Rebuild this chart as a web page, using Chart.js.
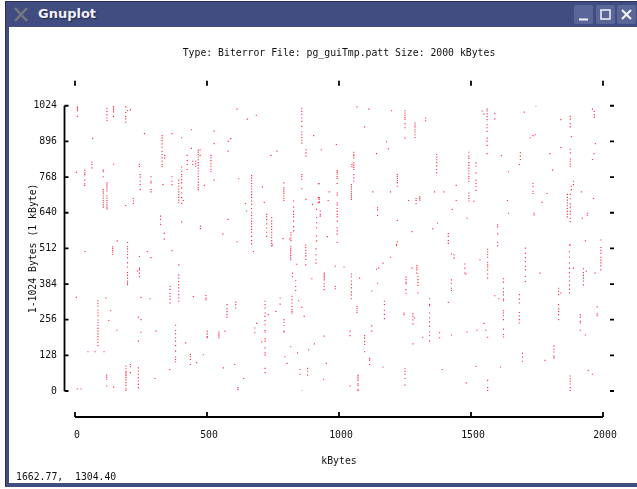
<!DOCTYPE html>
<html>
<head>
<meta charset="utf-8">
<title>Gnuplot</title>
<script src="https://cdn.jsdelivr.net/npm/chart.js@4"></script>
<style>
  html, body { margin: 0; padding: 0; background: #fff; overflow: hidden; }
  #win { position: absolute; left: 5px; top: 1px; width: 632px; height: 486px; background: #414c80; box-shadow: inset 1px 1px 0 #2a3058; }
  #client { position: absolute; left: 4px; top: 26px; width: 628px; height: 456px; background: #fff; }
  #name { position: absolute; left: 33px; top: 5px; font: bold 13px "DejaVu Sans", sans-serif; color: #f0f2f8; text-shadow: 1px 1px 1px #20264a; }
  #status { position: absolute; left: 7px; top: 444px; font: 9.8px "DejaVu Sans Mono", monospace; color: #111; white-space: pre; }
  .btn { position: absolute; top: 4px; width: 19px; height: 19px; border-radius: 2px; background: #5b6698; }
  svg { position: absolute; left: 0; top: 0; }
  canvas { position: absolute; left: 0; top: 0; }
</style>
</head>
<body>
<div id="win">
  <svg width="30" height="26"><path d="M10 7 L22 20 M22 7 L10 20" stroke="#77787f" stroke-width="2.4"/></svg>
  <div id="name">Gnuplot</div>
  <div class="btn" style="left:569px"><svg width="19" height="19"><path d="M5 14.5 H14" stroke="#f2f3f8" stroke-width="2"/></svg></div>
  <div class="btn" style="left:591px"><svg width="19" height="19"><rect x="5" y="5" width="9" height="9" fill="none" stroke="#e8eaf2" stroke-width="1.6"/></svg></div>
  <div class="btn" style="left:612px"><svg width="19" height="19"><path d="M5 5 L14 14 M14 5 L5 14" stroke="#f2f3f8" stroke-width="2.2"/></svg></div>
  <div id="client">
    <canvas id="myChart" width="628" height="456"></canvas>
    <div id="status">1662.77,  1304.40</div>
  </div>
</div>
<script>
// Text of the plot
const plotTitle = 'Type: Biterror File: pg_guiTmp.patt Size: 2000 kBytes';
const xTitle = 'kBytes';
const yTitle = '1-1024 Bytes (1 kByte)';

// Axis ticks
const xTicks = [0, 500, 1000, 1500, 2000];
const yTicks = [0, 128, 256, 384, 512, 640, 768, 896, 1024];

// Error positions. Each row: kByte first, then the bytes hit in it
const errorsTopLeft = [
  [9, 1024, 1018, 1012, 1006, 986], [5, 785], [67, 907], [37, 793, 783, 777, 757, 744, 738], [64, 821, 813, 801],
  [107, 793, 787, 769, 723, 715, 708, 700, 692, 684, 676, 668, 660],
  [121, 1015, 1004, 992, 980, 971, 747, 740, 733, 725, 718, 700, 692, 684, 676, 668, 660, 654],
  [146, 1021, 1015, 1009, 1002, 986, 814], [192, 1020, 1000, 986, 977, 965, 666], [199, 1007, 533], [210, 1009],
  [221, 691, 682, 673], [244, 814, 806], [247, 777, 768, 753, 741, 723], [263, 924], [288, 769, 753, 747, 723, 715],
  [330, 917, 908, 899, 887, 875, 860, 849, 837, 825, 813, 806], [340, 846, 837], [338, 566, 545], [333, 741],
  [367, 924, 769, 753, 741], [393, 757, 745, 735, 725, 715, 705, 695, 685, 676],
  [404, 909, 804, 789, 777, 769, 759, 747, 729, 711, 694, 673, 607], [410, 684], [425, 846, 827, 813, 795],
  [441, 938, 871], [446, 825, 813], [457, 825, 816, 807],
  [467, 864, 857, 849, 840, 830, 820, 810, 800, 790, 780, 770, 760, 750, 740, 730, 723], [474, 866, 846],
  [475, 592, 583], [490, 738], [515, 846, 837, 827, 816, 807, 795, 787], [527, 933, 888, 757],
  [580, 896, 861, 616], [590, 906], [614, 1012, 536], [620, 762], [646, 673], [650, 646], [653, 976], [687, 990],
  [669, 773, 764, 755, 745, 735, 725, 715, 705, 695, 682, 670, 655, 640, 630, 620, 610, 600, 590, 580, 570, 555, 540, 528],
  [710, 733], [717, 677], [726, 634, 625, 615, 600, 585, 570, 555],
  [745, 622, 610, 600, 590, 580, 570, 560, 550, 540, 530, 521], [742, 846], [765, 861],
  [791, 747, 729, 722, 715, 708, 700, 692, 684], [828, 682, 660, 645, 634, 625, 610, 590, 575], [818, 568, 560, 550, 540],
  [788, 547], [859, 1015, 1004, 993, 980, 968, 950, 930, 920, 910, 900, 890, 777, 770, 760, 726], [875, 866, 855, 843, 688],
  [904, 917], [900, 670], [915, 652, 622, 604, 586, 557, 539], [922, 744, 694, 676], [560, 563], [814, 545], [160, 539],
  [324, 628, 616, 598]
];
const errorsTopRight = [
  [925, 744, 694, 688, 680, 676], [929, 646, 634, 628], [933, 866], [956, 554], [963, 715], [959, 684], [990, 885],
  [993, 791, 785, 778, 770, 763, 745, 711, 703, 676, 668, 655, 645, 635, 625, 610, 586, 575, 563, 533],
  [1047, 741, 733, 725, 717, 710, 703, 696, 688], [1056, 857, 850, 845, 837, 819, 811, 803, 795, 777, 765, 753],
  [1049, 813, 805], [1068, 1020], [1097, 948], [1113, 1012], [1128, 715], [1142, 852], [1146, 658, 650, 630],
  [1180, 895], [1187, 869], [1195, 715], [1199, 1006], [1221, 777, 770, 763, 755, 748, 735, 612, 536], [1218, 527],
  [1250, 1006, 998, 990, 982, 975, 960, 945, 908], [1288, 962, 955, 948, 938, 930, 920, 910], [1264, 684],
  [1292, 691, 684, 673], [1306, 697, 691, 685], [1277, 572], [1328, 980, 970], [1355, 582], [1362, 715], [1373, 603],
  [1370, 849, 840, 830, 820, 808, 795, 783], [1397, 715], [1414, 565, 555, 540, 530], [1429, 652], [1444, 738, 684],
  [1485, 620], [1492, 857, 843, 835, 820, 810, 800, 790, 780, 770, 763, 753, 711, 700, 691, 682], [1511, 681],
  [1519, 819, 807, 783, 756, 745, 735, 720], [1542, 1005], [1549, 994],
  [1561, 1012, 1005, 995, 985, 974, 956, 945, 932, 908, 897, 882, 852], [1590, 996, 977], [1615, 845], [1642, 787, 638],
  [1601, 597, 589, 564, 533, 521], [1638, 684], [1683, 813], [1687, 855, 843, 831], [1702, 1001], [1724, 909],
  [1735, 917, 745, 735, 717, 709], [1743, 920], [1746, 1023], [1739, 638, 632], [1769, 677], [1788, 709], [1799, 852],
  [1809, 793], [1840, 974, 874], [1876, 986, 976, 960, 948, 868, 855, 833, 825, 815, 807, 706, 690, 672, 660, 645, 635, 620, 608, 524],
  [1880, 913, 735, 723], [1888, 753, 741], [1865, 706, 695, 685, 675, 665, 655, 645, 635, 625], [1918, 715], [1922, 620],
  [1941, 638, 631], [1964, 691], [1960, 1012, 831], [1967, 1004, 992, 983], [1971, 888], [1966, 852], [1992, 542], [1933, 539]
];
const errorsBottomLeft = [
  [38, 501], [143, 518, 512, 505, 498, 490], [199, 518, 510, 500, 490, 478, 460, 445, 425, 415, 405, 395, 388, 382],
  [244, 483, 441, 435, 423, 411], [236, 431], [274, 501], [288, 479], [367, 504],
  [393, 453, 417, 405, 393, 381, 370, 358, 346, 334, 322], [360, 375, 365, 350, 340, 330, 316], [5, 336],
  [87, 324, 315, 305, 290, 280, 270, 255, 245, 235, 225, 215, 205, 195, 185, 175, 163], [117, 334], [135, 288], [128, 253],
  [159, 218], [49, 141], [76, 141], [110, 141], [250, 336, 256, 211], [284, 331], [240, 265, 179, 83, 72, 60, 48, 36, 24, 12],
  [307, 215], [448, 339], [496, 343, 334, 328], [501, 215, 205, 195, 191], [545, 212, 205, 198, 191], [568, 215],
  [576, 310, 295, 285, 275, 265], [609, 319, 310, 298], [419, 173], [381, 236, 217, 205, 191, 179, 163, 143, 122, 113, 105],
  [437, 131, 123, 113, 95], [461, 102], [486, 130], [359, 77], [303, 45], [120, 57, 50, 42, 18], [146, 14], [9, 7], [23, 7],
  [193, 89, 80, 70, 65, 60, 55, 48, 40, 30, 20, 10, 3], [210, 95, 87, 66], [562, 83], [605, 95], [639, 45], [617, 12, 5],
  [681, 209, 226], [688, 243], [707, 176], [720, 322, 310, 298, 280, 268, 253, 238, 217, 212, 188, 179, 155, 137, 129, 81, 66],
  [732, 274], [761, 286], [777, 334, 312], [792, 256, 247, 235, 215, 212], [795, 123], [803, 99],
  [822, 340, 328, 316, 304, 292, 285, 280], [824, 423, 411], [836, 396, 375, 361], [847, 324], [859, 300, 0], [868, 268],
  [817, 518, 510, 503, 495, 486, 478, 471, 159], [843, 137], [885, 148], [907, 169], [852, 77, 60], [881, 81, 72, 57],
  [897, 403], [874, 524, 515, 505, 495, 485, 472, 453], [913, 510, 489, 471, 459], [840, 455], [676, 501], [748, 524]
];
const errorsBottomRight = [
  [944, 423, 417, 411, 405, 399, 384, 375, 364, 197], [952, 99], [941, 42], [986, 448, 375, 367], [1019, 445],
  [1047, 420, 410, 395, 383, 370, 355, 345, 331], [1042, 215, 199, 18], [1078, 405], [1068, 304, 296, 288, 282],
  [1072, 56, 50, 44, 38, 26, 20, 5, 2], [1097, 199, 190, 178, 167, 141], [1116, 117, 111, 95], [1124, 359, 234, 215],
  [1142, 437], [1146, 387], [1167, 459, 86], [1150, 441], [1195, 480], [1172, 322, 310, 290, 275, 260],
  [1218, 523], [1250, 80, 70, 60, 45, 21], [1246, 280, 274], [1254, 409, 400, 390, 385, 364, 349], [1277, 441],
  [1280, 277, 268, 255, 241, 169], [1286, 262], [1295, 450, 442, 435, 423], [1299, 411, 400, 390, 379, 352], [1317, 193],
  [1343, 331, 310, 306, 280, 262, 248, 232, 212, 200, 179], [1381, 209, 191], [1391, 77], [1414, 318],
  [1426, 399, 387, 369, 361, 201, 492], [1436, 489, 477], [1477, 456, 441, 423], [1481, 420], [1482, 29], [1485, 212],
  [1519, 88], [1523, 218], [1549, 243], [1534, 471], [1556, 218],
  [1563, 509, 500, 491, 480, 462, 453, 445, 435, 420, 405, 193, 38, 12, 2], [1590, 342], [1605, 331], [1612, 86],
  [1623, 403, 391, 369, 355, 345, 330, 324, 288, 280, 270, 256, 222, 203, 194], [1683, 346, 330, 316, 282, 270, 256, 244],
  [1706, 513, 495, 479, 465, 447, 435, 411, 393], [1695, 135, 122, 107], [1761, 423], [1780, 110], [1814, 161, 150, 140, 125, 119],
  [1832, 369, 358, 346, 310, 295, 285, 274, 256], [1840, 352], [1873, 524, 500, 480, 460, 440, 425, 410, 395, 380, 365, 352],
  [1876, 54, 44, 36, 25, 12, 2], [1888, 441], [1914, 274, 265, 250, 244, 218], [1926, 439, 425, 415, 405, 395, 381],
  [1937, 430], [1933, 201], [1944, 74], [1960, 60], [1970, 423], [1978, 302, 277, 270],
  [1992, 515, 505, 495, 480, 470, 460, 450, 435]
];

const points = [errorsTopLeft, errorsTopRight, errorsBottomLeft, errorsBottomRight]
  .flat()
  .flatMap(row => row.slice(1).map(y => ({ x: row[0], y: y })));

// Gnuplot keeps its axes apart from the data, so they are drawn away from the plot box
const gnuplotAxes = {
  id: 'gnuplotAxes',
  afterDraw(chart) {
    const c = chart.ctx;
    const xs = chart.scales.x;
    const ys = chart.scales.y;
    c.save();
    c.strokeStyle = '#000';
    c.lineWidth = 1.8;
    c.beginPath();
    // left axis with ticks
    c.moveTo(xs.left - 10.5, ys.getPixelForValue(1024));
    c.lineTo(xs.left - 10.5, ys.getPixelForValue(0));
    yTicks.forEach(v => {
      const p = ys.getPixelForValue(v);
      c.moveTo(xs.left - 10.5, p);
      c.lineTo(xs.left - 6.5, p);
      c.moveTo(xs.right + 7, p);
      c.lineTo(xs.right + 11, p);
    });
    // bottom axis with ticks, top ticks only
    c.moveTo(xs.left, ys.bottom + 26);
    c.lineTo(xs.right, ys.bottom + 26);
    xTicks.forEach(v => {
      const p = xs.getPixelForValue(v);
      c.moveTo(p, ys.bottom + 26);
      c.lineTo(p, ys.bottom + 21);
      c.moveTo(p, ys.top - 25);
      c.lineTo(p, ys.top - 20);
    });
    c.stroke();
    c.restore();
  }
};

const monoFont = { family: '"DejaVu Sans Mono", monospace', size: 9.8 };

new Chart(document.getElementById('myChart'), {
  type: 'scatter',
  data: {
    datasets: [{
      data: points,
      pointStyle: 'rect',
      pointRadius: 0.8,
      pointBorderWidth: 0,
      pointBackgroundColor: 'rgba(255, 0, 30, 0.85)'
    }]
  },
  options: {
    responsive: false,
    animation: false,
    devicePixelRatio: 1,
    scales: {
      x: {
        min: 0,
        max: 2000,
        afterFit: s => { s.height = 92; s.paddingLeft = 0; s.paddingRight = 34; },
        afterBuildTicks: s => { s.ticks = xTicks.map(v => ({ value: v })); },
        grid: { display: false, drawTicks: false },
        border: { display: false },
        ticks: { color: '#111', font: monoFont, padding: 39, labelOffset: 2, maxRotation: 0, autoSkip: false, callback: v => String(v) },
        title: { display: true, text: xTitle, color: '#111', font: monoFont, padding: { top: 0, bottom: 16 } }
      },
      y: {
        min: 0,
        max: 1024,
        afterFit: s => { s.width = 66; s.paddingTop = 0; s.paddingBottom = 0; },
        afterBuildTicks: s => { s.ticks = yTicks.map(v => ({ value: v })); },
        grid: { display: false, drawTicks: false },
        border: { display: false },
        ticks: { color: '#111', font: monoFont, padding: 18, autoSkip: false, callback: v => String(v) },
        title: { display: true, text: yTitle, color: '#111', font: monoFont, padding: { top: 19, bottom: 0 } }
      }
    },
    plugins: {
      legend: { display: false },
      tooltip: { enabled: false },
      title: {
        display: true,
        text: plotTitle,
        fullSize: false,
        color: '#111',
        font: { family: monoFont.family, size: 9.8, weight: 'normal' },
        padding: { top: 21, bottom: 46 }
      }
    }
  },
  plugins: [gnuplotAxes]
});
</script>
</body>
</html>
